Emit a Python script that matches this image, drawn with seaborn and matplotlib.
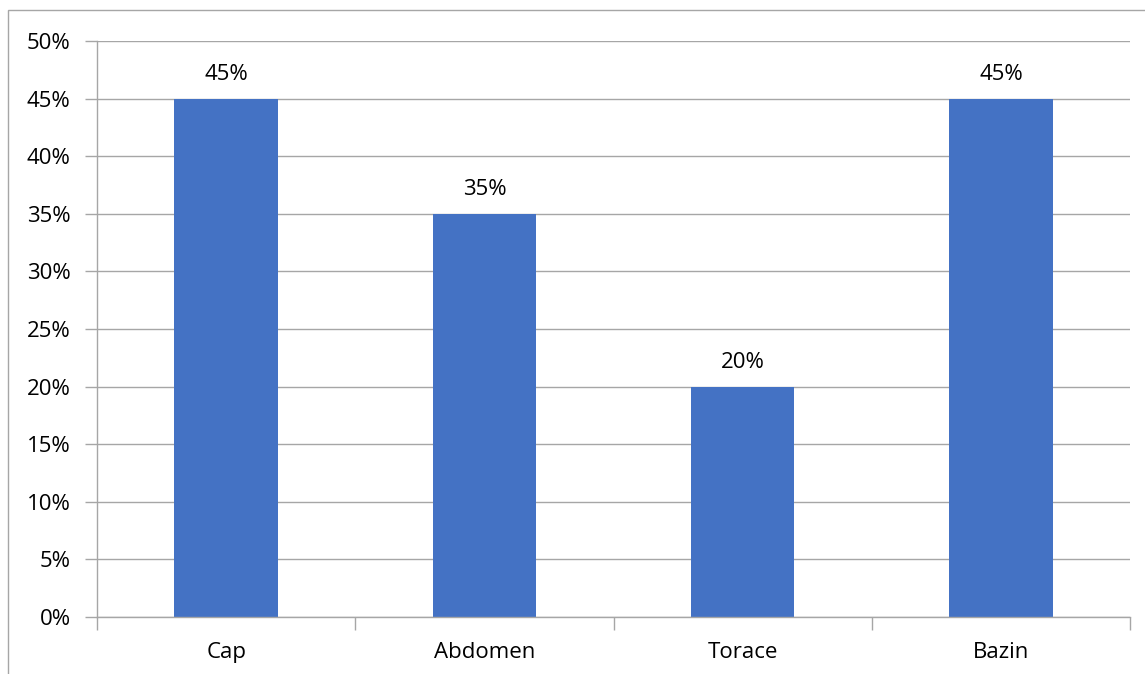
import matplotlib
matplotlib.use("Agg")
import matplotlib.pyplot as plt
from matplotlib.patches import Rectangle
import seaborn as sns
import pandas as pd

categories = ["Cap", "Abdomen", "Torace", "Bazin"]
values = [45, 35, 20, 45]
yticks = [0, 5, 10, 15, 20, 25, 30, 35, 40, 45, 50]
ytick_labels = [f"{v}%" for v in yticks]

sns.set_theme(style="white")
plt.rcParams['font.family'] = ['Open Sans', 'DejaVu Sans']

W, H = 1145, 674
fig = plt.figure(figsize=(W / 100, H / 100), dpi=100)
ax = fig.add_axes([97 / W, 1 - 617 / H, (1130 - 97) / W, (617 - 41) / H])

df = pd.DataFrame({"cat": categories, "val": values})
sns.barplot(data=df, x="cat", y="val", color="#4472C4", saturation=1,
            width=0.4, ax=ax, edgecolor="none")

ax.set_xlim(-0.5, 3.5)
ax.set_ylim(0, 50)
ax.set_yticks(yticks)
ax.set_yticklabels(ytick_labels)
ax.set_xlabel("")
ax.set_ylabel("")

grid_c = "#a6a6a6"
ax.yaxis.grid(True, color=grid_c, linewidth=1)
ax.set_axisbelow(True)
for s in ["top", "right"]:
    ax.spines[s].set_visible(False)
ax.spines["left"].set_color(grid_c)
ax.spines["bottom"].set_color(grid_c)
ax.spines["left"].set_linewidth(1)
ax.spines["bottom"].set_linewidth(1)

fs = 16
ax.tick_params(axis="y", which="major", left=True, length=9, width=1,
               color=grid_c, labelsize=fs, labelcolor="#000000", pad=10)
ax.tick_params(axis="x", which="major", bottom=False, labelsize=fs,
               labelcolor="#000000", pad=12)
ax.set_xticks([i - 0.5 for i in range(len(categories) + 1)], minor=True)
ax.tick_params(axis="x", which="minor", bottom=True, length=9, width=1,
               color=grid_c)

for i, v in enumerate(values):
    ax.annotate(f"{v}%", (i, v), xytext=(0, 10), textcoords="offset points",
                ha="center", va="bottom", fontsize=fs, color="#000000")

fig.patches.append(Rectangle((8 / W, -0.1), 1.2, 1 - 10 / H + 0.1,
                             transform=fig.transFigure, fill=False,
                             edgecolor="#a6a6a6", linewidth=1))

fig.savefig("out.png", dpi=100)
